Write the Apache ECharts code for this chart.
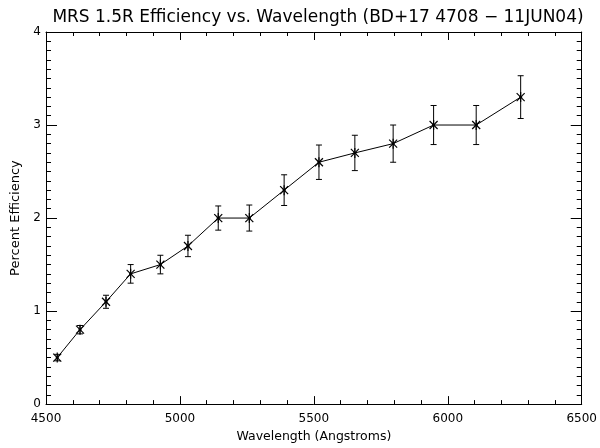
<!DOCTYPE html>
<html>
<head>
<meta charset="utf-8">
<script src="https://cdn.jsdelivr.net/npm/echarts@6/dist/echarts.min.js"></script>
<style>html,body{margin:0;padding:0;background:#fff;}#c{width:600px;height:448px;}</style>
</head>
<body>
<div id="c"></div>
<script>
const titleText = 'MRS 1.5R Efficiency vs. Wavelength (BD+17 4708 \u2212 11JUN04)';
const xName = 'Wavelength (Angstroms)';
const yName = 'Percent Efficiency';
const wavelengths = [4542, 4627, 4724, 4816, 4927, 5030, 5143, 5259, 5389, 5519, 5653, 5796, 5947, 6106, 6272];
const efficiency  = [0.50, 0.80, 1.10, 1.40, 1.50, 1.70, 2.00, 2.00, 2.30, 2.60, 2.70, 2.80, 3.00, 3.00, 3.30];
const errors      = [0.035, 0.045, 0.07, 0.10, 0.10, 0.115, 0.13, 0.14, 0.165, 0.185, 0.19, 0.20, 0.21, 0.21, 0.23];
const xMin = 4500, xMax = 6500, xStep = 500;
const yMin = 0, yMax = 4, yStep = 1;

const FONT = 'DejaVu Sans';
const lineData = wavelengths.map((w, i) => [w, efficiency[i]]);
const errData = wavelengths.map((w, i) => [w, efficiency[i], errors[i]]);

const chart = echarts.init(document.getElementById('c'), null, {renderer: 'canvas'});
const black = '#000';
function axisCommon(extra) {
  return Object.assign({
    type: 'value',
    axisLine: {show: true, onZero: false, lineStyle: {color: black, width: 1}},
    splitLine: {show: false},
    minorSplitLine: {show: false}
  }, extra);
}
const option = {
  animation: false,
  backgroundColor: '#fff',
  title: {
    text: titleText, left: 313, textAlign: 'center', top: 4,
    textStyle: {fontFamily: FONT, fontSize: 17, fontWeight: 'normal', color: black}
  },
  grid: {left: 46, right: 18, top: 32, bottom: 40},
  xAxis: [
    axisCommon({
      min: xMin, max: xMax, interval: xStep, position: 'bottom',
      axisTick: {show: true, inside: true, length: 8, lineStyle: {color: black}},
      minorTick: {show: true, splitNumber: 5, length: 4, lineStyle: {color: black}},
      axisLabel: {color: black, fontFamily: FONT, fontSize: 12, margin: 9, formatter: v => String(v)},
      name: xName, nameLocation: 'middle', nameGap: 25,
      nameTextStyle: {color: black, fontFamily: FONT, fontSize: 12.5}
    }),
    axisCommon({
      min: xMin, max: xMax, interval: xStep, position: 'top',
      axisTick: {show: true, inside: true, length: 8, lineStyle: {color: black}},
      minorTick: {show: true, splitNumber: 5, length: 4, lineStyle: {color: black}},
      axisLabel: {show: false}
    })
  ],
  yAxis: [
    axisCommon({
      min: yMin, max: yMax, interval: yStep, position: 'left',
      axisTick: {show: true, inside: true, length: 11, lineStyle: {color: black}},
      minorTick: {show: true, splitNumber: 10, length: 5, lineStyle: {color: black}},
      axisLabel: {color: black, fontFamily: FONT, fontSize: 12, margin: 5},
      name: yName, nameLocation: 'middle', nameGap: 22, nameRotate: 90,
      nameTextStyle: {color: black, fontFamily: FONT, fontSize: 13}
    }),
    axisCommon({
      min: yMin, max: yMax, interval: yStep, position: 'right',
      axisTick: {show: true, inside: true, length: 11, lineStyle: {color: black}},
      minorTick: {show: true, splitNumber: 10, length: 5, lineStyle: {color: black}},
      axisLabel: {show: false}
    })
  ],
  series: [
    {
      type: 'line', data: lineData, symbol: 'none', xAxisIndex: 0, yAxisIndex: 0,
      lineStyle: {color: black, width: 1}, z: 2
    },
    {
      type: 'custom', data: errData, xAxisIndex: 0, yAxisIndex: 0, z: 3,
      renderItem: function (params, api) {
        const x = api.value(0), y = api.value(1), e = api.value(2);
        const c = api.coord([x, y]);
        const t = api.coord([x, y + e]);
        const b = api.coord([x, y - e]);
        const cap = 3, s = 4;
        const L = (x1, y1, x2, y2, w) => ({type: 'line', shape: {x1, y1, x2, y2}, style: {stroke: black, lineWidth: w || 1}});
        return {
          type: 'group',
          children: [
            L(t[0], t[1], b[0], b[1]),
            L(t[0] - cap, t[1], t[0] + cap, t[1]),
            L(b[0] - cap, b[1], b[0] + cap, b[1]),
            L(c[0] - s, c[1] - s, c[0] + s, c[1] + s, 1.2),
            L(c[0] - s, c[1] + s, c[0] + s, c[1] - s, 1.2),
            L(c[0], c[1] - s - 1, c[0], c[1] + s + 1, 1.2),
            L(c[0] - 1.5, c[1], c[0] + 1.5, c[1], 2)
          ]
        };
      }
    }
  ]
};
chart.setOption(option);
</script>
</body>
</html>
